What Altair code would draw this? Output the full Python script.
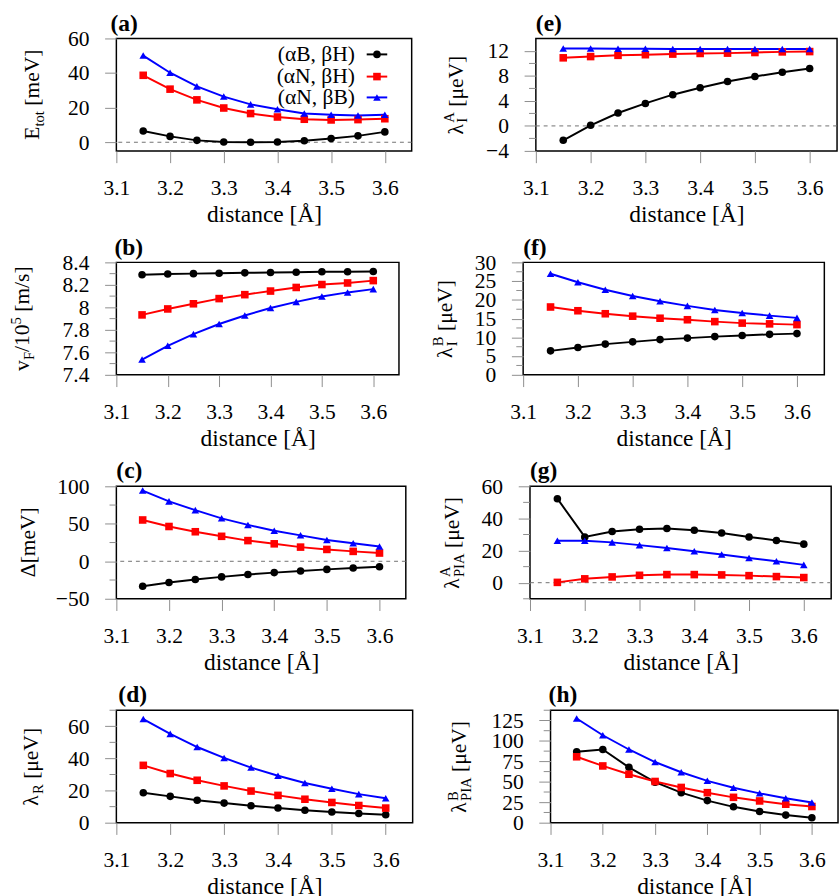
import altair as alt
import pandas as pd

FONT = "Liberation Serif"
TICK = "#8c8c8c"

DIST = [3.15, 3.20, 3.25, 3.30, 3.35, 3.40, 3.45, 3.50, 3.55, 3.60]
X_TICKS = [3.1, 3.2, 3.3, 3.4, 3.5, 3.6]
SERIES = ["(αB, βH)", "(αN, βH)", "(αN, βB)"]
COLORS = ["#000000", "#ff0000", "#0000ff"]
SHAPES = ["circle", "square", "triangle-up"]

# (a) total energy [meV]
etot_bh = [6.5, 3.4, 1.1, 0.2, 0.0, 0.2, 0.9, 2.2, 3.7, 6.0]
etot_nh = [38.7, 30.7, 24.5, 19.8, 16.6, 14.6, 13.3, 12.9, 13.1, 13.6]
etot_nb = [50.1, 40.2, 32.3, 26.4, 21.9, 19.1, 16.6, 15.9, 15.5, 15.9]

# (b) Fermi velocity [10^5 m/s]
vf_bh = [8.290, 8.296, 8.300, 8.304, 8.307, 8.310, 8.313, 8.316, 8.316, 8.319]
vf_nh = [7.933, 7.986, 8.032, 8.078, 8.113, 8.145, 8.177, 8.203, 8.217, 8.238]
vf_nb = [7.536, 7.658, 7.762, 7.852, 7.928, 7.994, 8.049, 8.096, 8.133, 8.162]

# (c) orbital gap [meV]
gap_bh = [-33.4, -28.2, -24.3, -20.8, -17.7, -15.1, -13.0, -10.8, -9.0, -7.3]
gap_nh = [55.1, 46.4, 39.4, 33.3, 27.6, 23.3, 18.9, 15.8, 13.2, 11.0]
gap_nb = [94.3, 79.9, 68.2, 57.3, 48.5, 40.7, 34.6, 28.5, 24.1, 19.8]

# (d) Rashba coupling [ueV]
rashba_bh = [18.6, 16.4, 14.0, 12.2, 10.5, 9.1, 7.7, 6.7, 5.7, 4.9]
rashba_nh = [35.7, 30.6, 26.4, 22.9, 19.7, 17.0, 14.6, 12.6, 10.7, 9.1]
rashba_nb = [64.5, 55.3, 47.1, 40.3, 34.3, 29.2, 24.7, 21.1, 17.8, 15.2]

# (e) intrinsic SOC, sublattice A [ueV]
lia_bh = [-2.3, 0.1, 2.07, 3.6, 5.0, 6.1, 7.1, 7.9, 8.6, 9.2]
lia_nh = [10.9, 11.1, 11.3, 11.4, 11.5, 11.6, 11.65, 11.75, 11.85, 11.9]
lia_nb = [12.4, 12.4, 12.35, 12.35, 12.3, 12.3, 12.3, 12.3, 12.3, 12.3]

# (f) intrinsic SOC, sublattice B [ueV]
lib_bh = [6.4, 7.3, 8.2, 8.8, 9.4, 9.8, 10.2, 10.5, 10.8, 11.0]
lib_nh = [18.1, 17.1, 16.3, 15.65, 15.1, 14.7, 14.2, 13.8, 13.6, 13.4]
lib_nb = [26.96, 24.7, 22.7, 21.04, 19.65, 18.4, 17.3, 16.5, 15.8, 15.2]

# (g) PIA coupling, sublattice A [ueV]
pia_a_bh = [52.3, 28.5, 31.9, 33.3, 33.7, 32.7, 30.9, 28.5, 26.3, 24.0]
pia_a_nh = [0.2, 2.4, 3.6, 4.6, 5.05, 5.05, 4.85, 4.4, 3.8, 3.2]
pia_a_nb = [26.1, 26.1, 25.1, 23.4, 21.6, 19.6, 17.6, 15.4, 13.3, 11.1]

# (h) PIA coupling, sublattice B [ueV]
pia_b_bh = [86.7, 89.5, 67.7, 49.6, 36.7, 27.0, 19.4, 13.7, 9.3, 6.0]
pia_b_nh = [80.6, 69.4, 59.3, 50.4, 43.1, 36.7, 31.0, 26.6, 22.6, 19.8]
pia_b_nb = [127.4, 106.9, 89.5, 74.2, 61.7, 51.2, 42.7, 35.9, 29.8, 24.6]

# approximate advance widths (em) of the serif face, for laying out rotated titles
ADV = {" ": 0.25, "[": 0.333, "]": 0.333, "/": 0.278, "E": 0.611, "V": 0.722,
       "A": 0.722, "B": 0.667, "F": 0.556, "I": 0.333, "P": 0.556, "R": 0.667,
       "e": 0.444, "m": 0.778, "s": 0.389, "t": 0.278, "o": 0.5, "v": 0.5,
       "λ": 0.55, "μ": 0.576, "Δ": 0.612}


def text_width(s, size):
    return sum(ADV.get(ch, 0.5) for ch in s) * size


def long_table(bh, nh, nb):
    rows = []
    for name, vals in zip(SERIES, (bh, nh, nb)):
        for d, v in zip(DIST, vals):
            rows.append({"x": d, "y": v, "s": name})
    return pd.DataFrame(rows)


ONE = pd.DataFrame({"k": [0]})


def rotated_title(segments, height, xb, big=22, small=15):
    """Vertical axis title built from normal / subscript / superscript pieces."""
    total = 0.0
    for txt, kind in segments:
        if kind == "n":
            total += text_width(txt, big)
        elif kind in ("sub", "sup"):
            total += text_width(txt, small)
        else:
            total += max(text_width(t, small) for t in txt)
    y = height / 2 + total / 2
    layers = []

    def piece(txt, size, dx, ypos):
        # leading blanks are collapsed by SVG, so advance past them by hand
        stripped = txt.lstrip(" ")
        ypos -= text_width(txt[: len(txt) - len(stripped)], size)
        return alt.Chart(ONE).mark_text(
            text=stripped, angle=270, align="left", baseline="alphabetic",
            font=FONT, fontSize=size, color="black"
        ).encode(x=alt.value(xb + dx), y=alt.value(ypos))

    for txt, kind in segments:
        if kind == "n":
            layers.append(piece(txt, big, 0, y))
            y -= text_width(txt, big)
        elif kind == "sub":
            layers.append(piece(txt, small, 5, y))
            y -= text_width(txt, small)
        elif kind == "sup":
            layers.append(piece(txt, small, -9, y))
            y -= text_width(txt, small)
        else:
            sub, sup = txt
            layers.append(piece(sub, small, 5, y))
            layers.append(piece(sup, small, -9, y))
            y -= max(text_width(sub, small), text_width(sup, small))
    return layers


def spacer(x, y):
    return alt.Chart(ONE).mark_rule(color="white", strokeWidth=1).encode(
        x=alt.value(x), x2=alt.value(x + 1), y=alt.value(y))


H = 115

PANELS = {
    "a": dict(data=(etot_bh, etot_nh, etot_nb), col=0, left=104, width=302,
              ydom=[-5, 60], yticks=[0, 20, 40, 60], minor=[], zero=True,
              title=[("E", "n"), ("tot", "sub"), (" [meV]", "n")], xb=-79, tdx=-6),
    "b": dict(data=(vf_bh, vf_nh, vf_nb), col=0, left=117, width=289,
              ydom=[7.4, 8.4], yticks=[7.4, 7.6, 7.8, 8.0, 8.2, 8.4],
              minor=[7.5, 7.7, 7.9, 8.1, 8.3], zero=False,
              title=[("v", "n"), ("F", "sub"), ("/10", "n"), ("5", "sup"), (" [m/s]", "n")],
              xb=-89, tdx=-2),
    "c": dict(data=(gap_bh, gap_nh, gap_nb), col=0, left=110, width=296,
              ydom=[-50, 100], yticks=[-50, 0, 50, 100], minor=[-25, 25, 75], zero=True,
              title=[("Δ[meV]", "n")], xb=-83, tdx=0),
    "d": dict(data=(rashba_bh, rashba_nh, rashba_nb), col=0, left=103, width=303,
              ydom=[0, 70], yticks=[0, 20, 40, 60], minor=[10, 30, 50, 70], zero=False,
              title=[("λ", "n"), ("R", "sub"), (" [μeV]", "n")], xb=-80, tdx=2),
    "e": dict(data=(lia_bh, lia_nh, lia_nb), col=1, left=530, width=308,
              ydom=[-4, 14], yticks=[-4, 0, 4, 8, 12], minor=[-2, 2, 6, 10], zero=True,
              title=[("λ", "n"), (("I", "A"), "subsup"), (" [μeV]", "n")], xb=-75, tdx=0),
    "f": dict(data=(lib_bh, lib_nh, lib_nb), col=1, left=530, width=308,
              ydom=[0, 30], yticks=[0, 5, 10, 15, 20, 25, 30],
              minor=[2.5, 7.5, 12.5, 17.5, 22.5, 27.5], zero=False,
              title=[("λ", "n"), (("I", "B"), "subsup"), (" [μeV]", "n")], xb=-73, tdx=0),
    "g": dict(data=(pia_a_bh, pia_a_nh, pia_a_nb), col=1, left=530, width=308,
              ydom=[-10, 60], yticks=[0, 20, 40, 60], minor=[-10, 10, 30, 50], zero=True,
              title=[("λ", "n"), (("PIA", "A"), "subsup"), (" [μeV]", "n")], xb=-73, tdx=0),
    "h": dict(data=(pia_b_bh, pia_b_nh, pia_b_nb), col=1, left=544, width=294,
              ydom=[0, 137.5], yticks=[0, 25, 50, 75, 100, 125],
              minor=[12.5, 37.5, 62.5, 87.5, 112.5, 137.5], zero=False,
              title=[("λ", "n"), (("PIA", "B"), "subsup"), (" [μeV]", "n")], xb=-86, tdx=-2),
}

LEGEND_Y = [16.3, 39.0, 60.3]


def panel(key):
    p = PANELS[key]
    df = long_table(*p["data"])
    rel_left = p["left"] - 420 * p["col"]
    W = p["width"]

    xenc = alt.X("x:Q", scale=alt.Scale(domain=[3.1, 3.65], nice=False, zero=False),
                 axis=alt.Axis(values=X_TICKS, format=".1f", title="distance [Å]",
                               labelPadding=16, titlePadding=4))
    yenc = alt.Y("y:Q", scale=alt.Scale(domain=p["ydom"], nice=False, zero=False),
                 axis=alt.Axis(values=p["yticks"], format=".6~g", title=None,
                               labelPadding=16))
    color = alt.Color("s:N", scale=alt.Scale(domain=SERIES, range=COLORS), legend=None)
    shape = alt.Shape("s:N", scale=alt.Scale(domain=SERIES, range=SHAPES), legend=None)

    layers = []
    if p["zero"]:
        layers.append(alt.Chart(pd.DataFrame({"y": [0]})).mark_rule(
            color="#707070", strokeDash=[4, 4], strokeWidth=1).encode(y=yenc))
    if p["minor"]:
        layers.append(alt.Chart(pd.DataFrame({"y": p["minor"]})).mark_rule(
            color=TICK, strokeWidth=1).encode(y=yenc, x=alt.value(-7), x2=alt.value(0)))
    layers.append(alt.Chart(df).mark_line(strokeWidth=2).encode(
        x=xenc, y=yenc, color=color))
    layers.append(alt.Chart(df).mark_point(filled=True, opacity=1, size=60).encode(
        x=xenc, y=yenc, color=color, shape=shape))

    layers += rotated_title(p["title"], H, p["xb"])

    # panel tag above the frame
    layers.append(alt.Chart(ONE).mark_text(
        text=f"({key})", align="left", baseline="alphabetic", font=FONT,
        fontSize=24, fontWeight="bold", color="black"
    ).encode(x=alt.value(p["tdx"]), y=alt.value(-8)))

    if key == "a":
        for name, c, sh, yv in zip(SERIES, COLORS, SHAPES, LEGEND_Y):
            layers.append(alt.Chart(ONE).mark_text(
                text=name, align="right", baseline="middle", font=FONT, fontSize=22,
                color="black").encode(x=alt.value(244), y=alt.value(yv)))
            layers.append(alt.Chart(ONE).mark_rule(color=c, strokeWidth=2).encode(
                x=alt.value(256), x2=alt.value(277), y=alt.value(yv)))
            layers.append(alt.Chart(ONE).mark_point(
                shape=sh, filled=True, color=c, size=60, opacity=1).encode(
                x=alt.value(266.5), y=alt.value(yv)))

    # fixed layout extents around the plot area
    layers.append(spacer(-rel_left, -27))
    layers.append(spacer(0, H + 79))
    if p["col"] == 0:
        layers.append(spacer(W + 3, H / 2))

    return alt.layer(*layers).properties(width=W, height=H)


rows = [alt.hconcat(panel(l), panel(r), spacing=9)
        for l, r in (("a", "e"), ("b", "f"), ("c", "g"), ("d", "h"))]

chart = alt.vconcat(*rows, spacing=4).properties(
    padding={"left": 0, "top": 0, "right": 0, "bottom": 0}
).configure_axis(
    labelFont=FONT, labelFontSize=22, labelColor="black",
    labelFlush=False, labelOverlap=False, tickColor=TICK, tickSize=12, tickWidth=1,
    domain=False, grid=False, titleFont=FONT, titleFontSize=24,
    titleFontWeight="normal", titleColor="black"
).configure_view(stroke="black", strokeWidth=1.5)

chart.save("out.html", embed_options={"renderer": "svg", "actions": False})
